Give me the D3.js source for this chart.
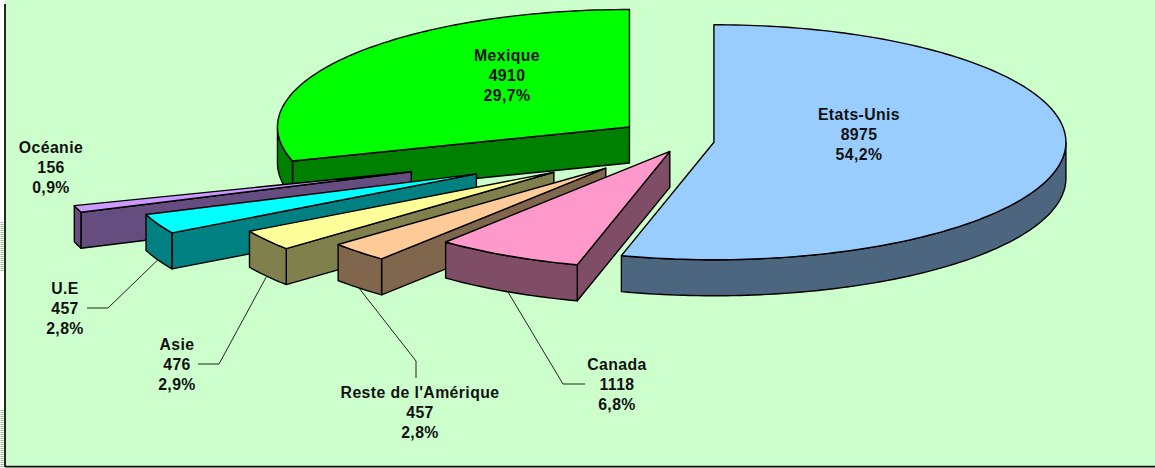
<!DOCTYPE html>
<html><head><meta charset="utf-8">
<script src="https://cdn.jsdelivr.net/npm/d3@7/dist/d3.min.js"></script>
<style>html,body{margin:0;padding:0;background:#fff;overflow:hidden}svg{display:block}
text{font-family:"Liberation Sans",Arial,sans-serif;font-weight:700;font-size:15.8px;letter-spacing:.4px;fill:#111;text-anchor:middle}</style>
</head><body><svg id="c" width="1155" height="468"></svg>
<script>
// Data, clockwise from 12 o'clock
const categories = ["Etats-Unis","Canada","Reste de l'Amérique","Asie","U.E","Océanie","Mexique"];
const values = [8975,1118,457,476,457,156,4910];
const explosion = [0.08,0.1,0.325,0.46,0.658,0.823,0.2];
const topColors = ["#99CCFF","#FF99CC","#FFCC99","#FFFF99","#00FFFF","#CC99FF","#00FF00"];
const sideColors = ["#4D6680","#804D66","#80664D","#80804D","#008080","#664D80","#008000"];
const drawOrder = [6,5,4,3,2,1,0];
const labelCentres = [[859,114],[617,364],[420,392],[177,344],[65,288],[51,147],[507,55]];
const leaderBends = [null,[[563,384],[585,384]],[[416,361],[416,378]],[[219,364],[198,364]],[[108,308],[87,308]],null,null];

const W=1155,H=468, CX=686, CY=141, RX=352, RY=117.5, DEPTH=36;
const svg=d3.select("#c");
const x=d3.scaleLinear().domain([-1,1]).range([CX-RX,CX+RX]);
const y=d3.scaleLinear().domain([-1,1]).range([CY+RY,CY-RY]);
const total=d3.sum(values);
const arcs=d3.pie().sort(null).value(d=>d)(values);
const line=d3.line();
const pct=v=>(v/total*100).toFixed(1).replace(".",",")+"%";

// background frame
svg.append("rect").attr("x",5).attr("y",0).attr("width",W).attr("height",466.5).attr("fill","#CCFFCC");
svg.append("line").attr("x1",5).attr("x2",5).attr("y1",4).attr("y2",467).attr("stroke","#111").attr("stroke-width",1.8);
svg.append("line").attr("x1",5).attr("x2",W).attr("y1",466.7).attr("y2",466.7).attr("stroke","#111").attr("stroke-width",1.8);
[[222,272],[410,468]].forEach(s=>svg.append("line").attr("x1",2).attr("x2",2).attr("y1",s[0]).attr("y2",s[1])
  .attr("stroke","#8fc08f").attr("stroke-width",3).attr("stroke-dasharray","1 1"));

function geom(i){
  const a=arcs[i], e=explosion[i], mid=(a.startAngle+a.endAngle)/2;
  const ux=e*Math.sin(mid), uy=e*Math.cos(mid);
  const P=(t,r=1,d=0)=>[x(ux+r*Math.sin(t)), y(uy+r*Math.cos(t))+d];
  return {a,mid,P};
}
function arcPts(P,t0,t1,d=0){
  const n=Math.max(2,Math.ceil(Math.abs(t1-t0)/0.02));
  return d3.range(n+1).map(k=>P(t0+(t1-t0)*k/n,1,d));
}
const stroke=s=>s.attr("stroke","#000").attr("stroke-width",1.4).attr("stroke-linejoin","round");

drawOrder.forEach(i=>{
  const {a,P}=geom(i), g=svg.append("g");
  const half=Math.PI/2, t3=3*Math.PI/2;
  // radial wall on the start side
  if(a.startAngle>Math.PI){
    const pts=[P(0,0),P(a.startAngle),P(a.startAngle,1,DEPTH),P(0,0,DEPTH)];
    g.append("path").attr("d",line(pts)+"Z").attr("fill",sideColors[i]).call(stroke);
  }
  // outer rim wall
  const t0=Math.max(a.startAngle,half), t1=Math.min(a.endAngle,t3);
  if(t1>t0){
    const pts=arcPts(P,t0,t1).concat(arcPts(P,t1,t0,DEPTH));
    g.append("path").attr("d",line(pts)+"Z").attr("fill",sideColors[i]).call(stroke);
  }
  // top face
  const top=[P(0,0)].concat(arcPts(P,a.startAngle,a.endAngle));
  g.append("path").attr("d",line(top)+"Z").attr("fill",topColors[i]).call(stroke);
});

// leader lines
leaderBends.forEach((b,i)=>{
  if(!b) return;
  const {mid,P}=geom(i);
  svg.append("path").attr("d",line([P(mid,1,DEPTH)].concat(b))).attr("fill","none")
    .attr("stroke","#222").attr("stroke-width",1);
});

// labels
categories.forEach((c,i)=>{
  const [lx,ly]=labelCentres[i];
  const t=svg.append("text").attr("x",lx).attr("y",ly+5.5);
  [c,values[i],pct(values[i])].forEach((s,k)=>t.append("tspan").attr("x",lx).attr("dy",k?20:0).text(s));
});
</script></body></html>
